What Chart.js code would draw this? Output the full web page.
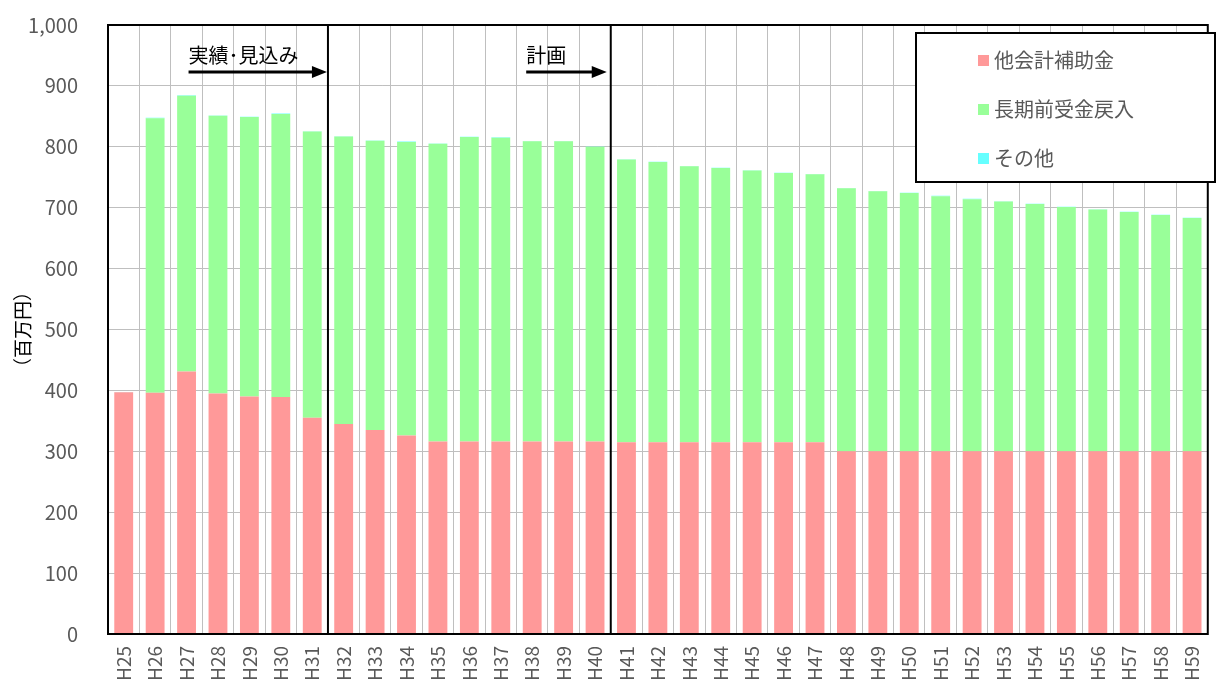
<!DOCTYPE html>
<html lang="ja">
<head>
<meta charset="utf-8">
<title>収入見通し</title>
<script src="https://cdn.jsdelivr.net/npm/chart.js@4/dist/chart.umd.min.js"></script>
<style>
    html, body { margin: 0; padding: 0; background: #fff; }
    #wrap { width: 1227px; height: 684px; }
</style>
</head>
<body>
<div id="wrap"><canvas id="chart" width="1227" height="684"></canvas></div>
<script>
// --- Data ---
const years = ['H25','H26','H27','H28','H29','H30','H31','H32','H33','H34','H35','H36',
    'H37','H38','H39','H40','H41','H42','H43','H44','H45','H46','H47','H48','H49','H50',
    'H51','H52','H53','H54','H55','H56','H57','H58','H59'];

const subsidy = [397, 396, 431, 395, 390, 389, 355, 345, 335, 326, 316, 316,
    316, 316, 316, 316, 315, 315, 315, 315, 315, 315, 315, 300, 300, 300,
    300, 300, 300, 300, 300, 300, 300, 300, 300];

const advanceReturn = [0, 451, 453, 456, 459, 465, 470, 472, 475, 482, 489, 500,
    499, 493, 493, 484, 464, 460, 453, 450, 446, 442, 440, 432, 427, 424,
    419, 414, 410, 406, 401, 397, 393, 388, 383];

const others = [0.5, 0.5, 0.5, 0.5, 0.5, 0.5, 0.5, 0.5, 0.5, 0.5, 0.5, 0.5,
    0.5, 0.5, 0.5, 0.5, 0.5, 0.5, 0.5, 0.5, 0.5, 0.5, 0.5, 0.5, 0.5, 0.5,
    0.5, 0.5, 0.5, 0.5, 0.5, 0.5, 0.5, 0.5, 0.5];

const yTicks = [0, 100, 200, 300, 400, 500, 600, 700, 800, 900, 1000];

// --- Style ---
const FONT = "'Noto Sans CJK JP', 'Noto Sans', sans-serif";
const TEXT = '#595959';
const GRID = '#BFBFBF';

// --- Annotations: period dividers, arrows, legend box ---
const overlay = {
    id: 'overlay',
    afterDraw(chart) {
        const { ctx, chartArea: a, scales: { x } } = chart;
        const boundary = i => (x.getPixelForValue(i) + x.getPixelForValue(i + 1)) / 2;

        ctx.save();
        // plot border
        ctx.strokeStyle = '#000';
        ctx.lineWidth = 2;
        ctx.strokeRect(a.left, a.top, a.right - a.left, a.bottom - a.top);

        // period dividers
        const d1 = boundary(6), d2 = boundary(15);
        [d1, d2].forEach(px => {
            ctx.beginPath();
            ctx.moveTo(px, a.top);
            ctx.lineTo(px, a.bottom);
            ctx.stroke();
        });

        // arrows with labels
        const arrow = (x0, x1, y, label) => {
            ctx.strokeStyle = '#000';
            ctx.fillStyle = '#000';
            ctx.lineWidth = 3;
            ctx.beginPath();
            ctx.moveTo(x0, y);
            ctx.lineTo(x1 - 12, y);
            ctx.stroke();
            ctx.beginPath();
            ctx.moveTo(x1, y);
            ctx.lineTo(x1 - 15, y - 6);
            ctx.lineTo(x1 - 15, y + 6);
            ctx.closePath();
            ctx.fill();
            ctx.font = '20px ' + FONT;
            ctx.textAlign = 'left';
            ctx.textBaseline = 'alphabetic';
            ctx.fillText(label, x0, y - 9);
        };
        arrow(x.getPixelForValue(2) + 2, d1 - 1, 72, '実績･見込み');
        arrow(x.getPixelForValue(13) - 6, d2 - 4, 72, '計画');

        // legend box
        const bx = 916, by = 33, bw = 299, bh = 149;
        ctx.fillStyle = '#fff';
        ctx.fillRect(bx, by, bw, bh);
        ctx.strokeStyle = '#000';
        ctx.lineWidth = 2;
        ctx.strokeRect(bx, by, bw, bh);
        ctx.font = '20px ' + FONT;
        ctx.textBaseline = 'middle';
        chart.data.datasets.forEach((ds, i) => {
            const ly = by + 27 + i * 49;
            ctx.fillStyle = ds.backgroundColor;
            ctx.fillRect(bx + 62, ly - 5, 11, 11);
            ctx.fillStyle = TEXT;
            ctx.fillText(ds.label, bx + 78, ly);
        });
        ctx.restore();
    }
};

// --- Chart ---
new Chart(document.getElementById('chart'), {
    type: 'bar',
    data: {
        labels: years,
        datasets: [
            { label: '他会計補助金', data: subsidy, backgroundColor: '#FF9999' },
            { label: '長期前受金戻入', data: advanceReturn, backgroundColor: '#99FF99' },
            { label: 'その他', data: others, backgroundColor: '#66FFFF' }
        ]
    },
    options: {
        responsive: false,
        animation: false,
        layout: { padding: { top: 0, right: 9, left: 11, bottom: 0 } },
        datasets: { bar: { categoryPercentage: 1, barPercentage: 0.6 } },
        plugins: {
            legend: { display: false },
            tooltip: { enabled: false }
        },
        scales: {
            x: {
                stacked: true,
                grid: { color: GRID, offset: true, drawTicks: false },
                border: { display: false },
                ticks: {
                    color: TEXT,
                    font: { family: FONT, size: 19 },
                    maxRotation: 90, minRotation: 90,
                    padding: 12
                },
                afterFit(s) { s.height = 50; }
            },
            y: {
                stacked: true,
                min: 0, max: 1000,
                afterBuildTicks(s) { s.ticks = yTicks.map(v => ({ value: v })); },
                grid: { color: GRID, drawTicks: false },
                border: { display: false },
                ticks: {
                    color: TEXT,
                    font: { family: FONT, size: 20 },
                    padding: 30,
                    callback: v => v.toLocaleString('en-US')
                },
                title: {
                    display: true,
                    text: '（百万円）',
                    color: '#000',
                    font: { family: FONT, size: 19 },
                    padding: 0
                },
                afterFit(s) {
                    s.width = 97;
                    s.paddingTop = 25;
                }
            }
        }
    },
    plugins: [overlay]
});
</script>
</body>
</html>
